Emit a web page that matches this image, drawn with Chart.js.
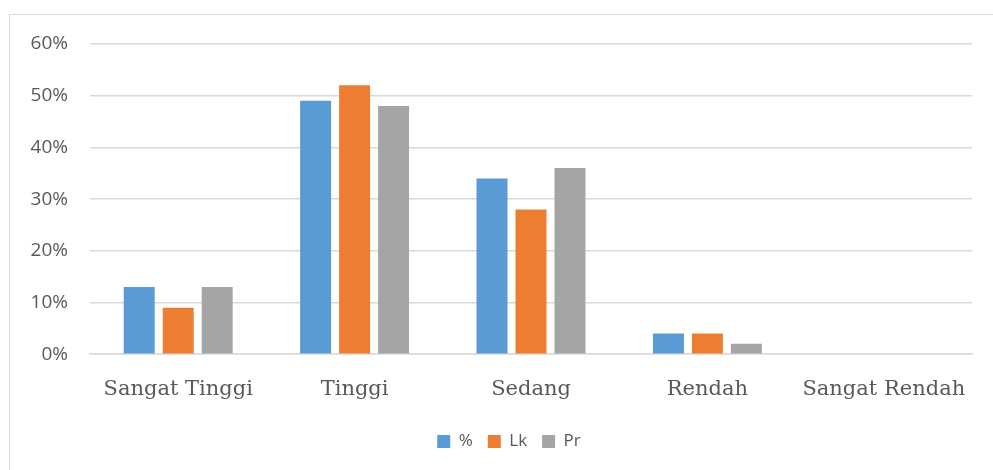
<!DOCTYPE html>
<html>
<head>
<meta charset="utf-8">
<script src="https://cdn.jsdelivr.net/npm/chart.js@4/dist/chart.umd.min.js"></script>
<style>
  html, body { margin: 0; padding: 0; background: #fff; }
  body { width: 993px; height: 470px; position: relative; overflow: hidden; }
  #frame { position: absolute; left: 9px; top: 14px; width: 1000px; height: 480px; border: 1.5px solid #d9d9d9; box-sizing: border-box; }
  #wrap { position: absolute; left: 0; top: 0; width: 993px; height: 470px; }
</style>
</head>
<body>
<div id="frame"></div>
<div id="wrap"><canvas id="c" width="993" height="470"></canvas></div>
<script>
const categories = ["Sangat Tinggi", "Tinggi", "Sedang", "Rendah", "Sangat Rendah"];
const seriesNames = ["%", "Lk", "Pr"];
const valuesPct = [13, 49, 34, 4, 0];
const valuesLk = [9, 52, 28, 4, 0];
const valuesPr = [13, 48, 36, 2, 0];
const yTicks = [0, 10, 20, 30, 40, 50, 60];
const colors = ["#5B9BD5", "#ED7D31", "#A5A5A5"];

const seriesValues = [valuesPct, valuesLk, valuesPr];

const legendShift = {
  id: 'legendShift',
  afterLayout(chart) {
    const lg = chart.legend;
    if (lg) { lg.left += 46; lg.width = lg.right - lg.left; }
  }
};

new Chart(document.getElementById('c'), {
  type: 'bar',
  data: {
    labels: categories,
    datasets: seriesNames.map((n, i) => ({
      label: n,
      data: seriesValues[i],
      backgroundColor: colors[i],
      borderWidth: 0,
      categoryPercentage: 0.663,
      barPercentage: 0.795
    }))
  },
  plugins: [legendShift],
  options: {
    responsive: false,
    animation: false,
    devicePixelRatio: 1,
    layout: { padding: { top: 44, right: 21, bottom: 10, left: 0 } },
    plugins: {
      tooltip: { enabled: false },
      legend: {
        position: 'bottom',
        labels: {
          boxWidth: 13,
          boxHeight: 13,
          padding: 15,
          color: '#595959',
          font: { family: 'Open Sans', size: 17 }
        }
      }
    },
    scales: {
      x: {
        afterFit: s => { s.height -= 6.2; },
        grid: { display: false, drawTicks: false },
        border: { display: true, color: '#d9d9d9', width: 1.5 },
        ticks: {
          color: '#595959',
          padding: 22.4,
          maxRotation: 0,
          autoSkip: false,
          font: { family: 'DejaVu Serif', size: 21 }
        }
      },
      y: {
        min: 0,
        max: 60,
        afterFit: s => { s.width = 90; },
        afterBuildTicks: s => { s.ticks = yTicks.map(v => ({ value: v })); },
        grid: { color: '#d9d9d9', lineWidth: 1.5, drawTicks: false },
        border: { display: false },
        ticks: {
          color: '#595959',
          padding: 22,
          font: { family: 'Open Sans', size: 19 },
          callback: v => v + '%'
        }
      }
    }
  }
});
</script>
</body>
</html>
